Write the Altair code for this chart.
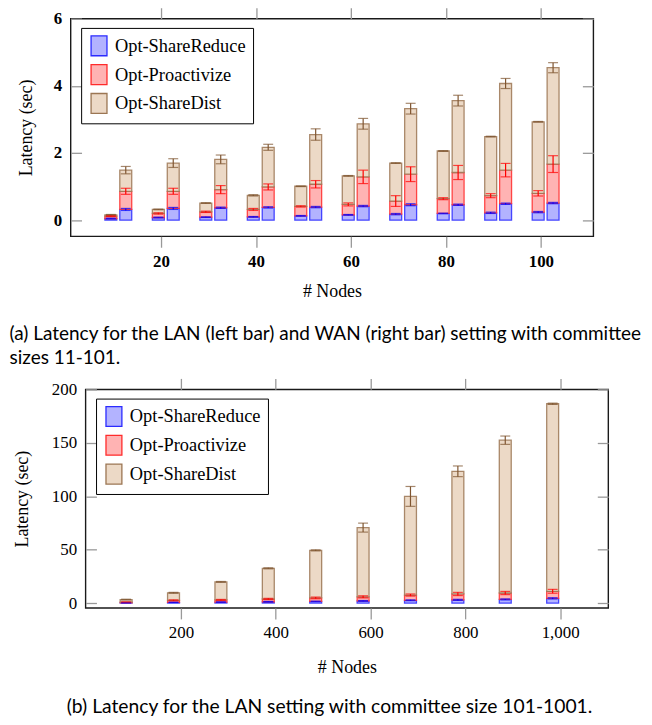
import altair as alt
import pandas as pd

SERIES = ["Opt-ShareReduce", "Opt-Proactivize", "Opt-ShareDist"]
FILLS = ["#b3b3ff", "#ffb3b3", "#ecd9c6"]
STROKES = ["#2b2bff", "#ff2b2b", "#9b7653"]
ERRC = ["#0000ff", "#ff0000", "#7f5530"]

# ---- (a) committee sizes 11-101, LAN (left bar) and WAN (right bar) ----
a_sizes = [11, 21, 31, 41, 51, 61, 71, 81, 91, 101]
lan_sr = [0.05, 0.08, 0.09, 0.10, 0.13, 0.16, 0.18, 0.20, 0.22, 0.24]
lan_pr = [0.07, 0.12, 0.16, 0.22, 0.28, 0.31, 0.39, 0.44, 0.51, 0.56]
lan_sd = [0.04, 0.12, 0.26, 0.42, 0.60, 0.85, 1.13, 1.42, 1.76, 2.13]
lan_sr_err = [0.01, 0.01, 0.01, 0.01, 0.01, 0.01, 0.02, 0.01, 0.02, 0.02]
lan_pr_err = [0.01, 0.02, 0.02, 0.03, 0.02, 0.045, 0.16, 0.03, 0.06, 0.08]
lan_sd_err = [0.01, 0.01, 0.01, 0.02, 0.01, 0.01, 0.01, 0.01, 0.01, 0.01]

wan_sr = [0.32, 0.35, 0.37, 0.38, 0.39, 0.42, 0.46, 0.46, 0.49, 0.51]
wan_pr = [0.54, 0.51, 0.54, 0.61, 0.68, 0.87, 0.91, 0.96, 1.00, 1.16]
wan_sd = [0.63, 0.84, 0.90, 1.18, 1.48, 1.58, 1.95, 2.14, 2.58, 2.87]
wan_sr_err = [0.03, 0.03, 0.02, 0.02, 0.02, 0.02, 0.03, 0.02, 0.02, 0.02]
wan_pr_err = [0.09, 0.09, 0.12, 0.09, 0.11, 0.20, 0.22, 0.21, 0.20, 0.25]
wan_sd_err = [0.11, 0.13, 0.13, 0.09, 0.17, 0.16, 0.16, 0.16, 0.15, 0.15]

a_xticks = [20, 40, 60, 80, 100]
a_yticks = [0, 2, 4, 6]

# ---- (b) committee sizes 101-1001, LAN ----
b_sizes = [101, 201, 301, 401, 501, 601, 701, 801, 901, 1001]
b_sr = [0.24, 0.6, 0.9, 1.2, 1.5, 2.0, 2.6, 3.0, 3.4, 4.4]
b_pr = [0.56, 1.9, 2.0, 2.6, 3.3, 3.8, 4.9, 5.5, 6.0, 6.6]
b_sd = [2.5, 7.1, 16.9, 28.7, 44.5, 64.8, 92.3, 114.8, 143.0, 175.5]
b_sr_err = [0.1, 0.2, 0.2, 0.3, 0.3, 0.4, 0.4, 0.5, 0.5, 0.6]
b_pr_err = [0.3, 0.5, 0.5, 0.6, 0.8, 1.0, 1.0, 1.5, 1.5, 1.8]
b_sd_err = [0.3, 0.4, 0.4, 0.5, 0.5, 4.2, 9.3, 5.0, 3.9, 0.6]

b_xticks = [200, 400, 600, 800, 1000]
b_yticks = [0, 50, 100, 150, 200]

CAPTION_A = ["(a) Latency for the LAN (left bar) and WAN (right bar) setting with committee",
             "sizes 11-101."]
CAPTION_B = "(b) Latency for the LAN setting with committee size 101-1001."


def stacked(sizes, parts, errs):
    rows = []
    for i, s in enumerate(sizes):
        base = 0.0
        for k, name in enumerate(SERIES):
            top = base + parts[k][i]
            rows.append(dict(size=s, series=name, y0=base, y1=top,
                             lo=top - errs[k][i], hi=top + errs[k][i]))
            base = top
    return pd.DataFrame(rows)


LEGEND_PATH = "M-0.8,-1H0.8V1H-0.8Z"


def panel(parts, xdom, ydom, xt, yt, xfmt, weight, width, height, title, ytp, xtp):
    fs = alt.Scale(domain=SERIES, range=FILLS)
    ss = alt.Scale(domain=SERIES, range=STROKES)
    cs = alt.Scale(domain=SERIES, range=ERRC)
    xs = alt.Scale(domain=xdom, nice=False, zero=False)
    ys = alt.Scale(domain=ydom, nice=False, zero=False)
    ax_left = alt.Axis(orient="left", values=yt, offset=-11, tickSize=11, domain=False,
                       grid=False, labelPadding=9, labelFontWeight=weight,
                       title="Latency (sec)", titlePadding=ytp)
    ax_bottom = alt.Axis(orient="bottom", values=xt, tickSize=11, domain=False, grid=False,
                         labelPadding=6, labelFontWeight=weight, format=xfmt,
                         title="# Nodes", titlePadding=xtp)
    ax_right = alt.Axis(orient="right", values=yt, offset=-11, tickSize=11, domain=False,
                        grid=False, labels=False, title=None)
    ax_top = alt.Axis(orient="top", values=xt, tickSize=11, domain=False, grid=False,
                      labels=False, title=None)
    legend = alt.Legend(orient="none", legendX=10.6, legendY=9.3, strokeColor="black",
                        fillColor="white", padding=7, symbolType=LEGEND_PATH,
                        symbolSize=400, symbolStrokeWidth=1.3, labelOffset=5,
                        rowPadding=3, cornerRadius=0)
    layers = []
    for i, (df, off) in enumerate(parts):
        base = alt.Chart(df)
        bar_x = ax_bottom if i == 0 else None
        bar_y = ax_left if i == 0 else None
        rule_x = ax_top if i == 0 else None
        rule_y = ax_right if i == 0 else None
        bars = base.mark_bar(size=12, strokeWidth=1.3, strokeOpacity=0.85, xOffset=off).encode(
            x=alt.X("size:Q", scale=xs, axis=bar_x),
            y=alt.Y("y1:Q", scale=ys, axis=bar_y),
            y2="y0:Q",
            fill=alt.Fill("series:N", scale=fs, legend=legend if i == 0 else None, title=None),
            stroke=alt.Stroke("series:N", scale=ss, legend=legend if i == 0 else None, title=None),
        )
        rules = base.mark_rule(strokeWidth=1.2, xOffset=off).encode(
            x=alt.X("size:Q", scale=xs, axis=rule_x),
            y=alt.Y("lo:Q", scale=ys, axis=rule_y),
            y2="hi:Q",
            color=alt.Color("series:N", scale=cs, legend=None),
        )
        caps = [
            base.mark_tick(orient="horizontal", size=10, thickness=1.2, xOffset=off).encode(
                x=alt.X("size:Q", scale=xs, axis=None),
                y=alt.Y(f"{c}:Q", scale=ys, axis=None),
                color=alt.Color("series:N", scale=cs, legend=None),
            )
            for c in ("lo", "hi")
        ]
        layers += [bars, rules] + caps
    return alt.layer(*layers).resolve_axis(x="independent", y="independent").properties(
        width=width, height=height, title=title,
        view=alt.ViewBackground(stroke="#1a1a1a", strokeWidth=1.4),
    )


def spacer(w):
    return alt.Chart(pd.DataFrame({"v": []})).mark_point(opacity=0).properties(
        width=w, height=1, view=alt.ViewBackground(stroke="transparent"))


df_lan = stacked(a_sizes, [lan_sr, lan_pr, lan_sd], [lan_sr_err, lan_pr_err, lan_sd_err])
df_wan = stacked(a_sizes, [wan_sr, wan_pr, wan_sd], [wan_sr_err, wan_pr_err, wan_sd_err])
df_b = stacked(b_sizes, [b_sr, b_pr, b_sd], [b_sr_err, b_pr_err, b_sd_err])

title_a = alt.TitleParams(text=CAPTION_A, orient="bottom", anchor="start", frame="group",
                          dx=-61.5, offset=24, font="Lato", fontSize=19.1, fontWeight="normal",
                          color="black", lineHeight=25)
title_b = alt.TitleParams(text=CAPTION_B, orient="bottom", anchor="middle", frame="group",
                          dx=-17.5, offset=22, font="Lato", fontSize=19.4, fontWeight="normal",
                          color="black")

panel_a = panel([(df_lan, -7.5), (df_wan, 7.5)], [2, 110], [-0.48, 6], a_xticks, a_yticks,
                "d", "bold", 526, 219, title_a, 18, 14)
panel_b = panel([(df_b, -8)], [9, 1091], [-4.6, 200], b_xticks, b_yticks,
                ",d", "normal", 526, 220, title_b, 20, 18)

ind = dict(fill="independent", stroke="independent", color="independent")
row_a = alt.hconcat(spacer(1), panel_a, spacing=0).resolve_scale(**ind).resolve_legend(fill="independent", stroke="independent")
row_b = alt.hconcat(spacer(5.5), panel_b, spacing=0).resolve_scale(**ind).resolve_legend(fill="independent", stroke="independent")

chart = alt.vconcat(row_a, row_b, spacing=7).resolve_scale(**ind).resolve_legend(
    fill="independent", stroke="independent").properties(
    padding={"left": -3, "top": -4.5, "right": 0, "bottom": 0}
).configure_axis(
    labelFont="Liberation Serif", labelFontSize=17, labelColor="black",
    titleFont="Liberation Serif", titleFontSize=18, titleFontWeight="normal", titleColor="black",
    tickColor="#999999", tickWidth=1.3,
).configure_legend(
    labelFont="Liberation Serif", labelFontSize=18.5, labelColor="black",
)

chart.save("out.html", embed_options={"renderer": "svg", "actions": False})
